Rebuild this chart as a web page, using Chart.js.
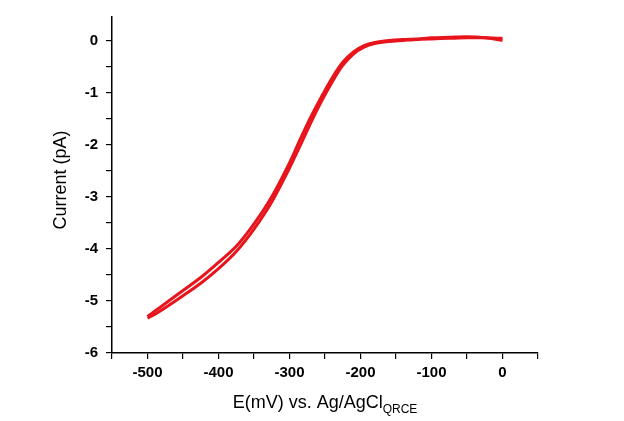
<!DOCTYPE html>
<html><head><script src="https://cdn.jsdelivr.net/npm/chart.js@4"></script>
<style>body{margin:0;background:#fff}#w{width:624px;height:421px}</style></head>
<body><div id="w"><canvas id="c"></canvas></div>
<script>
const fwdE = [-500,-490,-475,-450,-425,-400,-375,-350,-325,-300,-285,-270,-255,-240,-225,-210,-195,-180,-160,-140,-120,-100,-75,-50,-25,0];
const fwdI = [-5.33,-5.26,-5.13,-4.9,-4.66,-4.38,-4.05,-3.62,-3.1,-2.45,-2.02,-1.58,-1.17,-0.8,-0.48,-0.26,-0.13,-0.06,-0.02,0.0,0.02,0.03,0.04,0.05,0.05,0.04];
const revE = [0,-25,-50,-75,-100,-120,-140,-160,-180,-195,-210,-225,-240,-255,-270,-285,-300,-325,-350,-375,-400,-425,-450,-475,-490,-500];
const revI = [0.0,0.05,0.07,0.06,0.05,0.03,0.02,0.0,-0.04,-0.1,-0.22,-0.42,-0.72,-1.08,-1.47,-1.9,-2.35,-3.0,-3.52,-3.95,-4.26,-4.55,-4.8,-5.05,-5.2,-5.3];
const xTicks=[-500,-400,-300,-200,-100,0];
const yTicks=[0,-1,-2,-3,-4,-5,-6];
const pts=(e,i)=>e.map((v,k)=>({x:v,y:i[k]}));
const red='#e8141c';
const F='"Liberation Sans",Arial';
const titlePlug={id:'t',afterDraw(ch){const c=ch.ctx;c.save();c.fillStyle='#000';
 c.font='18px '+F;c.textBaseline='alphabetic';
 const s='E(mV) vs. Ag/AgCl';const w1=c.measureText(s).width;c.font='12px '+F;const w2=c.measureText('QRCE').width;
 const x0=325-(w1+w2)/2;c.font='18px '+F;c.fillText(s,x0,408);c.font='12px '+F;c.fillText('QRCE',x0+w1,413);
 c.translate(66,180);c.rotate(-Math.PI/2);c.font='18px '+F;c.textAlign='center';c.fillText('Current (pA)',0,0);c.restore();}};
new Chart(document.getElementById('c'),{type:'scatter',
data:{datasets:[{data:pts(fwdE,fwdI),showLine:true,borderColor:red,borderWidth:3,pointRadius:0,tension:0.3},
{data:pts(revE,revI),showLine:true,borderColor:red,borderWidth:3,pointRadius:0,tension:0.3}]},
options:{responsive:true,maintainAspectRatio:false,animation:false,
layout:{padding:{left:0,right:86,top:6,bottom:0}},
plugins:{legend:{display:false},tooltip:{enabled:false}},
scales:{
x:{min:-550,max:50,afterFit(s){s.height=68},border:{color:'#000',width:1.5},
 afterBuildTicks(s){const t=[];for(let v=-550;v<=50;v+=50)t.push({value:v});s.ticks=t;},
 grid:{drawOnChartArea:false,color:'#000',tickLength:6,lineWidth:1.2},
 ticks:{color:'#000',padding:5,font:{family:F,size:15,weight:'bold'},maxRotation:0,autoSkip:false,
 callback:v=>xTicks.includes(v)?String(v):''}},
y:{min:-6,max:0.45,afterFit(s){s.width=112},border:{color:'#000',width:1.5},
 afterBuildTicks(s){const t=[];for(let v=-6;v<=0.01;v+=0.5)t.push({value:Math.round(v*2)/2});s.ticks=t;},
 grid:{drawOnChartArea:false,color:'#000',tickLength:6,lineWidth:1.2},
 ticks:{color:'#000',padding:8,font:{family:F,size:15,weight:'bold'},autoSkip:false,
 callback:v=>yTicks.includes(v)?String(v):''}}}},
plugins:[titlePlug]});
</script></body></html>
